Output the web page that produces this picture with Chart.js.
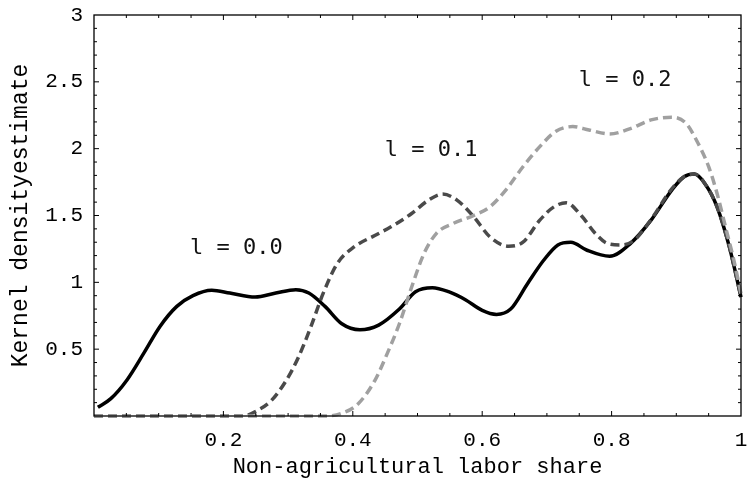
<!DOCTYPE html>
<html>
<head>
<meta charset="utf-8">
<script src="https://cdn.jsdelivr.net/npm/chart.js@4/dist/chart.umd.min.js"></script>
<style>
  html, body { margin: 0; padding: 0; background: #fff; }
  #wrap { width: 747px; height: 483px; }
</style>
</head>
<body>
<div id="wrap"><canvas id="myChart" width="747" height="483"></canvas></div>
<script>
// l = 0.0 (solid black)
const shareL0 = [0.006, 0.026, 0.051, 0.077, 0.102, 0.128, 0.153, 0.182, 0.21, 0.249, 0.281, 0.312, 0.332, 0.357, 0.383, 0.411, 0.44, 0.472, 0.497, 0.523, 0.548, 0.574, 0.6, 0.622, 0.644, 0.67, 0.695, 0.717, 0.737, 0.762, 0.797, 0.829, 0.861, 0.893, 0.912, 0.928, 0.944, 0.963, 0.982, 1.0];
const densityL0 = [0.065, 0.13, 0.27, 0.47, 0.67, 0.82, 0.90, 0.94, 0.92, 0.89, 0.92, 0.945, 0.92, 0.82, 0.69, 0.645, 0.68, 0.80, 0.93, 0.96, 0.93, 0.87, 0.79, 0.76, 0.80, 0.99, 1.165, 1.28, 1.30, 1.24, 1.195, 1.29, 1.465, 1.69, 1.79, 1.81, 1.74, 1.565, 1.265, 0.89];

// l = 0.1 (dark grey dashes)
const shareL1 = [0.0, 0.1, 0.2, 0.23, 0.252, 0.274, 0.297, 0.316, 0.335, 0.354, 0.376, 0.402, 0.434, 0.459, 0.491, 0.517, 0.539, 0.561, 0.587, 0.612, 0.641, 0.663, 0.689, 0.711, 0.73, 0.753, 0.775, 0.794, 0.816, 0.835, 0.861, 0.893, 0.912, 0.928, 0.944, 0.963, 0.982, 1.0];
const densityL1 = [0, 0, 0, 0, 0.04, 0.115, 0.265, 0.44, 0.665, 0.915, 1.14, 1.265, 1.35, 1.415, 1.515, 1.615, 1.66, 1.615, 1.49, 1.34, 1.27, 1.30, 1.465, 1.565, 1.595, 1.50, 1.365, 1.29, 1.28, 1.315, 1.47, 1.70, 1.79, 1.81, 1.74, 1.565, 1.265, 0.89];

// l = 0.2 (light grey dashes)
const shareL2 = [0.0, 0.1, 0.2, 0.3, 0.357, 0.383, 0.408, 0.434, 0.453, 0.472, 0.491, 0.51, 0.529, 0.555, 0.587, 0.612, 0.638, 0.663, 0.689, 0.714, 0.74, 0.765, 0.797, 0.829, 0.861, 0.893, 0.915, 0.931, 0.95, 0.963, 0.976, 0.989, 1.0];
const densityL2 = [0, 0, 0, 0, 0, 0.02, 0.09, 0.265, 0.465, 0.69, 0.965, 1.215, 1.365, 1.44, 1.50, 1.565, 1.70, 1.865, 2.015, 2.13, 2.165, 2.14, 2.11, 2.15, 2.215, 2.235, 2.19, 2.065, 1.865, 1.665, 1.415, 1.165, 0.915];

// curve labels and where they sit (data coordinates)
const labelTexts = ['l = 0.0', 'l = 0.1', 'l = 0.2'];
const labelX = [0.22, 0.521, 0.821];
const labelY = [1.257, 1.99, 2.51];

const xTicks = [0.2, 0.4, 0.6, 0.8, 1];
const yTicks = [0.5, 1, 1.5, 2, 2.5, 3];

const toPoints = (xs, ys) => xs.map((x, i) => ({ x: x, y: ys[i] }));
const axisFont = "'Liberation Mono', 'DejaVu Sans Mono', monospace";

// frame on four sides with inward major/minor ticks, plus the curve labels
const framePlugin = {
  id: 'frame',
  afterDatasetsDraw(chart) {
    const { ctx, chartArea: a, scales: { x, y } } = chart;
    ctx.save();
    ctx.strokeStyle = '#000';
    ctx.lineWidth = 1.3;
    ctx.strokeRect(a.left, a.top, a.right - a.left, a.bottom - a.top);
    ctx.lineWidth = 1;
    ctx.beginPath();
    for (let i = 1; i < 20; i++) {
      const v = i * 0.05;
      const len = (i % 4 === 0) ? 5 : 3;
      const px = x.getPixelForValue(v);
      ctx.moveTo(px, a.bottom); ctx.lineTo(px, a.bottom - len);
      ctx.moveTo(px, a.top); ctx.lineTo(px, a.top + len);
    }
    for (let i = 1; i < 30; i++) {
      const v = i * 0.1;
      const len = (i % 5 === 0) ? 5 : 3;
      const py = y.getPixelForValue(v);
      ctx.moveTo(a.left, py); ctx.lineTo(a.left + len, py);
      ctx.moveTo(a.right, py); ctx.lineTo(a.right - len, py);
    }
    ctx.stroke();

    ctx.fillStyle = '#111';
    ctx.font = "22px 'DejaVu Sans Mono', monospace";
    ctx.textAlign = 'center';
    ctx.textBaseline = 'middle';
    labelTexts.forEach((t, i) => {
      ctx.fillText(t, x.getPixelForValue(labelX[i]), y.getPixelForValue(labelY[i]));
    });
    ctx.restore();
  }
};

const ctx = document.getElementById('myChart').getContext('2d');
new Chart(ctx, {
  type: 'line',
  data: {
    datasets: [
      {
        label: labelTexts[0],
        data: toPoints(shareL0, densityL0),
        borderColor: '#000000',
        borderWidth: 3.5,
        order: 3
      },
      {
        label: labelTexts[1],
        data: toPoints(shareL1, densityL1),
        borderColor: '#4a4a4a',
        borderWidth: 3.5,
        borderDash: [9, 5],
        order: 2
      },
      {
        label: labelTexts[2],
        data: toPoints(shareL2, densityL2),
        borderColor: '#a0a0a0',
        borderWidth: 3.5,
        borderDash: [9, 5],
        order: 1
      }
    ]
  },
  options: {
    responsive: false,
    animation: false,
    clip: false,
    elements: {
      point: { radius: 0 },
      line: { cubicInterpolationMode: 'monotone', fill: false }
    },
    layout: { padding: { top: 15, right: 6, left: 0, bottom: 0 } },
    plugins: { legend: { display: false }, tooltip: { enabled: false } },
    scales: {
      x: {
        type: 'linear',
        min: 0,
        max: 1,
        grid: { display: false, drawTicks: false },
        border: { display: false },
        afterBuildTicks: (scale) => { scale.ticks = xTicks.map(v => ({ value: v })); },
        afterFit: (scale) => {
          scale.height = 67;
          scale.paddingLeft = 0;
          scale.paddingRight = 0;
        },
        ticks: {
          padding: 12,
          maxRotation: 0,
          color: '#000',
          font: { family: axisFont, size: 21 },
          callback: (v) => (v === 1 ? '1' : v.toFixed(1))
        },
        title: {
          display: true,
          text: 'Non-agricultural labor share',
          color: '#000',
          font: { family: axisFont, size: 22 },
          padding: { top: 0, bottom: 3 }
        }
      },
      y: {
        type: 'linear',
        min: 0,
        max: 3,
        grid: { display: false, drawTicks: false },
        border: { display: false },
        afterBuildTicks: (scale) => { scale.ticks = yTicks.map(v => ({ value: v })); },
        afterFit: (scale) => {
          scale.width = 94;
          scale.paddingTop = 0;
          scale.paddingBottom = 0;
        },
        ticks: {
          padding: 11,
          color: '#000',
          font: { family: axisFont, size: 21 },
          callback: (v) => String(v)
        },
        title: {
          display: true,
          text: 'Kernel densityestimate',
          color: '#000',
          font: { family: axisFont, size: 23 },
          padding: { top: 7, bottom: 0 }
        }
      }
    }
  },
  plugins: [framePlugin]
});
</script>
</body>
</html>
